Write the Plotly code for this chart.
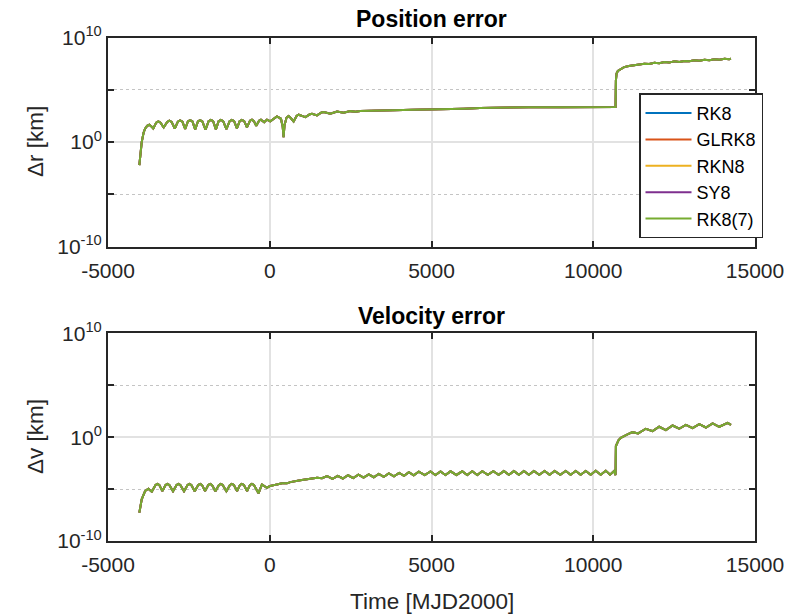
import plotly.graph_objects as go

# ---- data -----------------------------------------------------------------
# (time [MJD2000], log10 of error [km]) samples of the propagation error
pos_samples = [
    (-4031, -2.2), (-4000, -1.0), (-3958, 0.0), (-3900, 0.9), (-3854, 1.28),
    (-3790, 1.55), (-3721, 1.66), (-3660, 1.5), (-3600, 1.3),
    (-3510, 1.86), (-3443, 1.98), (-3375, 1.86), (-3280, 1.4),
    (-3170, 1.93), (-3102, 2.05), (-3035, 1.93), (-2935, 1.3),
    (-2840, 1.96), (-2771, 2.08), (-2700, 1.96), (-2615, 1.25),
    (-2530, 1.98), (-2461, 2.1), (-2390, 1.98), (-2305, 1.22),
    (-2220, 1.98), (-2152, 2.1), (-2085, 1.98), (-1985, 1.2),
    (-1890, 2.0), (-1820, 2.12), (-1750, 2.0), (-1665, 1.22),
    (-1580, 2.0), (-1511, 2.12), (-1440, 2.0), (-1340, 1.25),
    (-1240, 2.0), (-1170, 2.12), (-1100, 2.0), (-1015, 1.3),
    (-930, 2.0), (-861, 2.12), (-790, 2.0), (-705, 1.4),
    (-610, 2.05), (-551, 2.15), (-490, 2.0), (-418, 1.55),
    (-330, 2.05), (-273, 2.15), (-171, 1.9), (-87, 2.15), (15, 1.98),
    (110, 2.2), (223, 2.45), (346, 2.23), (400, 1.5), (427, 0.48),
    (455, 1.6), (520, 2.35), (582, 2.49), (650, 2.3), (737, 1.98),
    (830, 2.5), (892, 2.62), (960, 2.55), (1099, 2.39), (1240, 2.66),
    (1307, 2.71), (1461, 2.55), (1600, 2.83), (1666, 2.87), (1873, 2.71),
    (2080, 2.93), (2285, 2.8), (2492, 2.96), (2650, 2.9), (2802, 2.97),
    (3100, 2.98), (3421, 3.02), (3800, 3.05), (4452, 3.1), (5000, 3.12),
    (5486, 3.14), (6000, 3.2), (6500, 3.25), (7344, 3.32), (8000, 3.33),
    (9000, 3.34), (10000, 3.35), (10690, 3.35), (10700, 5.9), (10720, 6.55),
    (10760, 6.8), (10851, 6.97), (10954, 7.17), (11100, 7.27), (11250, 7.36),
    (11420, 7.40), (11580, 7.50), (11730, 7.46), (11890, 7.58), (12040, 7.54),
    (12200, 7.66), (12350, 7.60), (12510, 7.72), (12660, 7.66), (12820, 7.76),
    (12970, 7.72), (13130, 7.82), (13280, 7.77), (13440, 7.87), (13590, 7.82),
    (13750, 7.92), (13900, 7.87), (14060, 7.97), (14200, 7.93), (14257, 7.97),
]

vel_samples = [
    (-4031, -7.27), (-3990, -6.5), (-3958, -5.99), (-3854, -5.19),
    (-3752, -4.96), (-3647, -5.25),
    (-3530, -4.6), (-3474, -4.5), (-3415, -4.6), (-3320, -5.2),
    (-3220, -4.6), (-3164, -4.5), (-3105, -4.6), (-2990, -5.2),
    (-2880, -4.6), (-2824, -4.5), (-2765, -4.6), (-2650, -5.2),
    (-2540, -4.6), (-2483, -4.5), (-2425, -4.6), (-2320, -5.2),
    (-2210, -4.6), (-2152, -4.5), (-2095, -4.6), (-2000, -5.2),
    (-1900, -4.6), (-1842, -4.5), (-1785, -4.6), (-1680, -5.2),
    (-1570, -4.6), (-1511, -4.5), (-1455, -4.6), (-1340, -5.2),
    (-1230, -4.6), (-1170, -4.5), (-1110, -4.6), (-1010, -5.2),
    (-920, -4.6), (-861, -4.5), (-800, -4.6), (-700, -5.2),
    (-610, -4.6), (-551, -4.5), (-490, -4.6), (-347, -5.41),
    (-242, -4.55), (-87, -4.87), (15, -4.7), (223, -4.55), (378, -4.45),
    (533, -4.45), (635, -4.33), (944, -4.16), (1254, -4.0), (1461, -3.9),
    (1616, -3.96), (1771, -3.75), (1940, -4.02), (2100, -3.72), (2260, -3.98),
    (2420, -3.67), (2580, -3.94), (2740, -3.62), (2900, -3.9), (3060, -3.58),
    (3215, -3.86), (3370, -3.54), (3525, -3.82), (3680, -3.5), (3840, -3.78),
    (4000, -3.45), (4150, -3.72), (4300, -3.38), (4450, -3.68), (4607, -3.32),
    (4790, -3.66), (4969, -3.3), (5120, -3.65), (5279, -3.3), (5430, -3.65),
    (5588, -3.29), (5770, -3.64), (5950, -3.29), (6105, -3.64), (6260, -3.28),
    (6415, -3.64), (6570, -3.28), (6740, -3.63), (6910, -3.27), (7075, -3.63),
    (7238, -3.27), (7393, -3.63), (7548, -3.27), (7703, -3.63), (7858, -3.26),
    (8010, -3.62), (8167, -3.26), (8330, -3.62), (8498, -3.26), (8650, -3.62),
    (8808, -3.25), (8980, -3.62), (9149, -3.25), (9300, -3.62), (9458, -3.25),
    (9610, -3.62), (9768, -3.25), (9920, -3.62), (10077, -3.24), (10230, -3.62),
    (10387, -3.24), (10520, -3.62), (10644, -3.26), (10690, -3.65),
    (10700, -0.86), (10780, -0.3), (10851, -0.06), (11058, 0.26), (11213, 0.48),
    (11387, 0.36), (11625, 0.81), (11833, 0.58), (12037, 1.0), (12245, 0.67),
    (12452, 1.12), (12656, 0.81), (12864, 1.19), (13071, 0.87), (13276, 1.25),
    (13483, 0.93), (13690, 1.32), (13895, 1.0), (14155, 1.38), (14257, 1.19),
]

t_pos = [p[0] for p in pos_samples]
pos_err = [10 ** p[1] for p in pos_samples]
t_vel = [p[0] for p in vel_samples]
vel_err = [10 ** p[1] for p in vel_samples]

integrators = ["RK8", "GLRK8", "RKN8", "SY8", "RK8(7)"]
colors = ["#0072BD", "#D95319", "#EDB120", "#7E2F8E", "#77AC30"]

x_ticks = [-5000, 0, 5000, 10000, 15000]
y_ticks = [1e-10, 1e0, 1e10]
y_ticktext = ["10<sup>-10</sup>", "10<sup>0</sup>", "10<sup>10</sup>"]
y_minor = [1e-5, 1e5]

# ---- figure ---------------------------------------------------------------
W, H = 799, 614
FONT = "Liberation Sans, Arial, sans-serif"
AX = "#262626"
TICK_SIZE = 21

fig = go.Figure()
for name, col in zip(integrators, colors):
    fig.add_trace(go.Scatter(x=t_pos, y=pos_err, mode="lines", name=name,
                             line=dict(color=col, width=2),
                             xaxis="x", yaxis="y", legendgroup=name))
for name, col in zip(integrators, colors):
    fig.add_trace(go.Scatter(x=t_vel, y=vel_err, mode="lines", name=name,
                             line=dict(color=col, width=2),
                             xaxis="x2", yaxis="y2", legendgroup=name,
                             showlegend=False))

x0, x1 = 108 / W, 755 / W
top_dom = [(H - 246.7) / H, (H - 37.5) / H]
bot_dom = [(H - 541) / H, (H - 333.3) / H]

common = dict(showline=True, linecolor=AX, linewidth=2, mirror="allticks",
              ticks="inside", ticklen=6, tickwidth=2, tickcolor=AX,
              showgrid=True, gridcolor="#e2e2e2", gridwidth=1.5, zeroline=False,
              tickfont=dict(family=FONT, size=TICK_SIZE, color=AX),
              automargin=False)

xcommon = dict(common, range=[-5000, 15000], tickvals=x_ticks,
               ticktext=[str(v) for v in x_ticks], tickmode="array",
               ticklabelstandoff=4)
ycommon = dict(common, type="log", range=[-10, 10], tickmode="array",
               tickvals=y_ticks, ticktext=y_ticktext,
               minor=dict(tickvals=y_minor, ticks="inside", ticklen=6,
                          tickcolor=AX, tickwidth=2, showgrid=True,
                          gridcolor="#c4c4c4", griddash="dot", gridwidth=1.2))

fig.update_layout(
    width=W, height=H,
    margin=dict(l=0, r=0, t=0, b=0),
    paper_bgcolor="white", plot_bgcolor="white",
    font=dict(family=FONT, color=AX),
    xaxis=dict(xcommon, domain=[x0, x1], anchor="y"),
    yaxis=dict(ycommon, domain=top_dom, anchor="x"),
    xaxis2=dict(xcommon, domain=[x0, x1], anchor="y2"),
    yaxis2=dict(ycommon, domain=bot_dom, anchor="x2"),
    showlegend=True,
    legend=dict(x=639 / W, y=(H - 93.3) / H, xanchor="left", yanchor="top",
                bgcolor="white", bordercolor=AX, borderwidth=1.5,
                font=dict(family=FONT, size=18, color="#000000"),
                itemwidth=46, tracegroupgap=0),
)

xc = (x0 + x1) / 2
ann = [
    dict(text="<b>Position error</b>", x=xc, y=(H - 19) / H,
         font=dict(family=FONT, size=23, color="#000000")),
    dict(text="<b>Velocity error</b>", x=xc, y=(H - 316) / H,
         font=dict(family=FONT, size=23, color="#000000")),
    dict(text="Time [MJD2000]", x=xc, y=(H - 601) / H,
         font=dict(family=FONT, size=22.5, color=AX)),
    dict(text="\u0394r [km]", x=35 / W, y=(H - 142) / H, textangle=-90,
         font=dict(family=FONT, size=22.5, color=AX)),
    dict(text="\u0394v [km]", x=35 / W, y=(H - 437) / H, textangle=-90,
         font=dict(family=FONT, size=22.5, color=AX)),
]
for a in ann:
    fig.add_annotation(xref="paper", yref="paper", showarrow=False,
                       xanchor="center", yanchor="middle", **a)

fig.write_html("out.html")
